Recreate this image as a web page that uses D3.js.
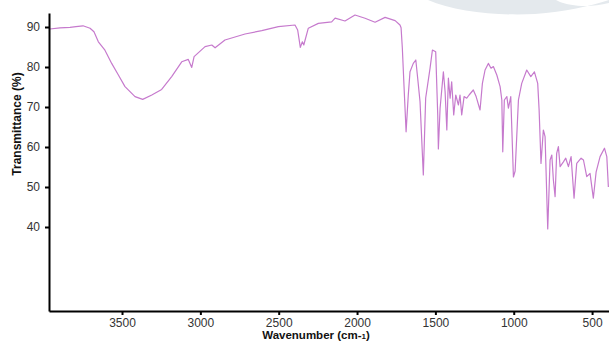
<!DOCTYPE html>
<html>
<head>
<meta charset="utf-8">
<script src="https://cdn.jsdelivr.net/npm/d3@7"></script>
<style>
  body { margin: 0; background: #fff; }
  svg { display: block; font-family: Arial, "Liberation Sans", sans-serif; }
</style>
</head>
<body>
<svg id="chart" width="609" height="342"></svg>
<script>
// wavenumber (cm-1) and transmittance (%)
const wavenumbers = [3960, 3896, 3832, 3794, 3749, 3704, 3679, 3651, 3609, 3566, 3526, 3481, 3417, 3368,
  3310, 3247, 3183, 3119, 3077, 3055, 3040, 2970, 2927, 2906, 2843, 2715, 2608, 2502, 2396, 2379,
  2362, 2349, 2340, 2311, 2247, 2162, 2140, 2077, 2013, 1949, 1885, 1821, 1757, 1726, 1719, 1711,
  1700, 1687, 1673, 1662, 1641, 1625, 1613, 1598, 1577, 1562, 1534, 1519, 1498, 1485, 1481, 1470,
  1449, 1438, 1427, 1417, 1406, 1396, 1383, 1370, 1353, 1343, 1332, 1317, 1300, 1285, 1258, 1240,
  1215, 1200, 1183, 1162, 1145, 1130, 1108, 1087, 1076, 1070, 1060, 1044, 1034, 1019, 1002, 991,
  970, 949, 917, 891, 868, 847, 838, 826, 811, 800, 783, 768, 757, 747, 736, 726, 715, 704, 683,
  668, 651, 634, 615, 598, 570, 555, 534, 513, 492, 474, 449, 421, 406, 396];
const transmittance = [89.5, 89.8, 89.9, 90.1, 90.3, 89.7, 88.8, 86.3, 84.2, 80.9, 78.2, 75.1, 72.6, 71.9,
  73.0, 74.4, 77.6, 81.3, 81.9, 79.9, 82.6, 85.1, 85.5, 84.8, 86.75, 88.25, 89.1, 90.1, 90.5, 89.25,
  84.9, 86.3, 85.5, 89.7, 90.9, 91.3, 92.2, 91.5, 93.0, 92.2, 91.2, 92.4, 91.6, 90.5, 89.8, 84.75,
  75, 63.8, 73, 78.8, 80.9, 81.75, 77.2, 71.3, 53, 72.25, 79.7, 84.25, 83.8, 68, 59.5, 69.7,
  78.8, 73.8, 64.25, 77.2, 72.2, 76.3, 68, 73, 70.5, 73, 68, 72.6, 72.2, 73, 74.25, 72.6,
  69.25, 75.9, 79.25, 80.9, 79.7, 80.1, 78, 75.1, 71.75, 58.8, 71.75, 72.6, 69.7, 72.6, 52.5, 54,
  71.75, 75.9, 79.25, 77.6, 78.8, 75.9, 69.25, 55.9, 64.25, 62.6, 39.5, 56.75, 58, 51.75, 47.6, 58.4, 60.1, 55.1, 56.3,
  57.2, 55.1, 57.6, 47.2, 55.9, 57.2, 56.75, 52.6, 53.4, 47.2, 53.8, 57.6, 59.7, 57.6, 50];
const xTicks = [3500, 3000, 2500, 2000, 1500, 1000, 500];
const yTicks = [40, 50, 60, 70, 80, 90];

const svg = d3.select("#chart");
const margin = { top: 13, right: 0, bottom: 31, left: 49 },
  width = +svg.attr("width") - margin.left - margin.right,
  height = +svg.attr("height") - margin.top - margin.bottom;

// faint watermark swoosh in the top right corner
svg.append("path")
  .attr("d", "M428,0 C455,12 500,16 535,14 C565,12 590,6 609,0 L609,3 C590,8 570,6 560,2 L556,0 Z")
  .attr("fill", "#e4e9ed");

const g = svg.append("g").attr("transform", "translate(" + margin.left + "," + margin.top + ")");

const x = d3.scaleLinear().domain([3966, 392]).range([0, width]);
const y = d3.scaleLinear().domain([19, 93.5]).range([height, 0]);

g.append("clipPath").attr("id", "clip")
  .append("rect").attr("width", width).attr("height", height);

const line = d3.line()
  .x(function (d, i) { return x(wavenumbers[i]); })
  .y(function (d) { return y(d); });

g.append("path")
  .datum(transmittance)
  .attr("clip-path", "url(#clip)")
  .attr("fill", "none")
  .attr("stroke", "#c67acd")
  .attr("stroke-width", 1.2)
  .attr("stroke-linejoin", "round")
  .attr("d", line);

const xAxis = g.append("g")
  .attr("transform", "translate(0," + height + ")")
  .call(d3.axisBottom(x).tickValues(xTicks).tickFormat(d3.format("d"))
    .tickSize(4).tickSizeOuter(0).tickPadding(3));

const yAxis = g.append("g")
  .call(d3.axisLeft(y).tickValues(yTicks).tickFormat(d3.format("d"))
    .tickSize(4).tickSizeOuter(0).tickPadding(5));

[xAxis, yAxis].forEach(function (a) {
  a.select(".domain").attr("stroke", "#000").attr("stroke-width", 2);
  a.selectAll(".tick line").attr("stroke", "#000").attr("stroke-width", 2);
  a.selectAll(".tick text").attr("fill", "#333").attr("font-size", 12)
    .attr("font-family", "Arial, 'Liberation Sans', sans-serif");
});

// axis titles
const xt = svg.append("text")
  .attr("x", 316)
  .attr("y", 339)
  .attr("text-anchor", "middle")
  .attr("font-size", 11.5)
  .attr("font-weight", "bold")
  .attr("fill", "#111")
  .text("Wavenumber (cm-");
xt.append("tspan").attr("font-size", 8).text("1");
xt.append("tspan").text(")");

svg.append("text")
  .attr("transform", "translate(21,124) rotate(-90)")
  .attr("text-anchor", "middle")
  .attr("font-size", 12)
  .attr("font-weight", "bold")
  .attr("fill", "#111")
  .text("Transmittance (%)");
</script>
</body>
</html>
